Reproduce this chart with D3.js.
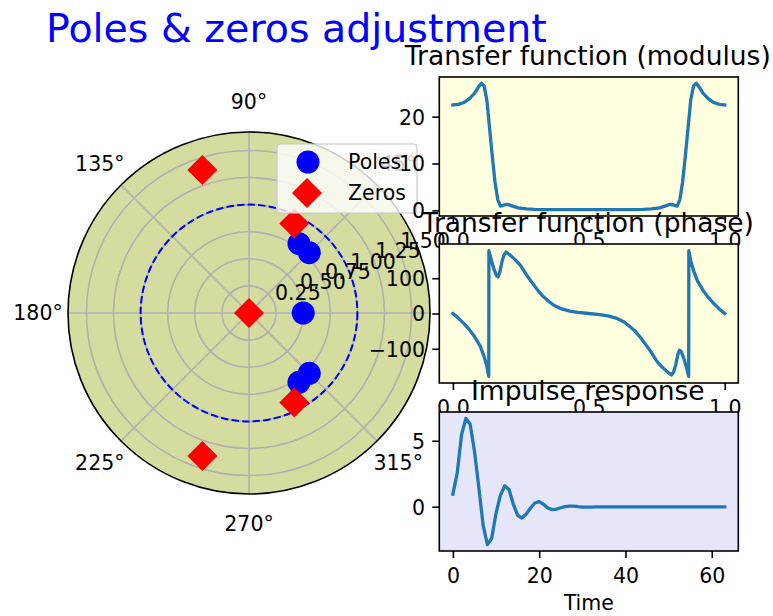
<!DOCTYPE html>
<html><head><meta charset="utf-8">
<script src="https://cdn.jsdelivr.net/npm/d3@7"></script>
<style>body{margin:0;background:#fff}svg{display:block;font-family:"DejaVu Sans",sans-serif}</style>
</head><body><svg id="c" width="773" height="616"></svg>
<script>
// ---------- data ----------
const poleRe = [0.5, 0.461, 0.556, 0.556, 0.461];
const poleIm = [0.0, 0.64, 0.557, -0.557, -0.64];
const zeroRe = [0.0, -0.43, -0.43, 0.418, 0.418];
const zeroIm = [0.0, 1.32, -1.32, 0.825, -0.825];
const rTicks = [0.25, 0.5, 0.75, 1.0, 1.25, 1.5];
const rTickLabels = ["0.25", "0.50", "0.75", "1.00", "1.25", "1.50"];
const thetaTicks = [0, 45, 90, 135, 180, 225, 270, 315];
const thetaLabels = ["0°", "45°", "90°", "135°", "180°", "225°", "270°", "315°"];

const modX = [0.000,0.020,0.040,0.060,0.080,0.095,0.105,0.115,0.125,0.135,0.145,0.155,0.165,0.175,0.185,0.200,0.220,0.240,0.270,0.300,0.350,0.400,0.450,0.500,
              0.550,0.600,0.650,0.700,0.730,0.760,0.780,0.800,0.815,0.825,0.835,0.845,0.855,0.865,0.875,0.885,0.895,0.905,0.920,0.940,0.960,0.980,1.000];
const modY = [22.5,22.6,23.0,23.8,25.0,26.4,27.1,26.5,23.5,17.5,11.5,6.0,2.3,0.9,1.1,1.3,0.9,0.55,0.3,0.2,0.16,0.15,0.15,0.15,
              0.15,0.15,0.16,0.2,0.3,0.55,0.9,1.3,1.1,0.9,2.3,6.0,11.5,17.5,23.5,26.5,27.1,26.4,25.0,23.8,23.0,22.6,22.5];

const phX = [0.000,0.020,0.040,0.060,0.080,0.100,0.115,0.125,0.132,0.1325,0.140,0.150,0.160,0.166,0.172,0.180,0.188,0.196,0.210,0.230,0.250,0.270,0.290,0.310,0.330,0.350,0.370,0.400,0.430,0.460,0.500,
             0.540,0.570,0.600,0.630,0.650,0.670,0.690,0.710,0.730,0.750,0.770,0.790,0.804,0.812,0.820,0.828,0.834,0.840,0.850,0.860,0.8675,0.868,0.875,0.885,0.900,0.920,0.940,0.960,0.980,1.000];
const phY = [0,-13,-28,-45,-66,-92,-122,-150,-178,178,155,128,108,104,115,145,166,174,166,152,135,110,89,68,50,36,24,13,7,3.3,0,
             -3.3,-7,-13,-24,-36,-50,-68,-89,-110,-135,-152,-166,-174,-166,-145,-115,-104,-108,-128,-155,-178,178,150,122,92,66,45,28,13,0];

const impT = d3.range(64);
const impY = [0.95,2.55,5.45,6.7,6.25,4.2,1.5,-1.4,-2.88,-2.4,-0.5,0.85,1.58,1.3,0.2,-0.65,-0.86,-0.55,-0.1,0.28,0.38,0.18,-0.1,-0.22,-0.18,-0.08,0.0,0.05,0.04,0.0,
              -0.03,-0.04,-0.03,-0.02,-0.02,-0.01,-0.01,-0.01,-0.01,-0.01,-0.01,-0.01,-0.01,-0.01,-0.01,-0.01,-0.01,-0.01,-0.01,-0.01,-0.01,-0.01,-0.01,-0.01,-0.01,-0.01,-0.01,-0.01,-0.01,-0.01,-0.01,-0.01,-0.01,-0.01];

const unitX = [0, 0.5, 1.0];
const modYTicks = [0, 10, 20];
const phYTicks = [-100, 0, 100];
const impXTicks = [0, 20, 40, 60];
const impYTicks = [0, 5];

// ---------- drawing ----------
const svg = d3.select("#c");
const FS = 20.5;
const fmtMinus = v => String(v).replace("-", "\u2212");

// Title
svg.append("text").attr("x", 46).attr("y", 42).attr("font-size", 39.5).attr("fill", "#0000ff").text("Poles & zeros adjustment");

// Polar
const cx = 249, cy = 313, R = 181;
const rS = d3.scaleLinear().domain([0, 1.67]).range([0, R]);
const pg = svg.append("g");
pg.append("circle").attr("cx", cx).attr("cy", cy).attr("r", R).attr("fill", "#d5dc9f");
pg.selectAll(".rg").data(rTicks).enter().append("circle")
  .attr("cx", cx).attr("cy", cy).attr("r", d => rS(d)).attr("fill", "none").attr("stroke", "#b0b0b0").attr("stroke-width", 1.6);
pg.selectAll(".tg").data(thetaTicks).enter().append("line")
  .attr("x1", cx).attr("y1", cy)
  .attr("x2", d => cx + R * Math.cos(d * Math.PI / 180))
  .attr("y2", d => cy - R * Math.sin(d * Math.PI / 180))
  .attr("stroke", "#b0b0b0").attr("stroke-width", 1.6);
pg.append("circle").attr("cx", cx).attr("cy", cy).attr("r", rS(1)).attr("fill", "none")
  .attr("stroke", "#0000ff").attr("stroke-width", 2).attr("stroke-dasharray", "7.4,3.2");
pg.selectAll(".pole").data(poleRe).enter().append("circle")
  .attr("cx", (d, i) => cx + rS(d)).attr("cy", (d, i) => cy - rS(poleIm[i])).attr("r", 11.5).attr("fill", "#0000ff");
const dia = s => `M0,${-s}L${s},0L0,${s}L${-s},0Z`;
pg.selectAll(".zero").data(zeroRe).enter().append("path")
  .attr("d", dia(15)).attr("fill", "#ff0000")
  .attr("transform", (d, i) => `translate(${cx + rS(d)},${cy - rS(zeroIm[i])})`);
pg.append("circle").attr("cx", cx).attr("cy", cy).attr("r", R).attr("fill", "none").attr("stroke", "#000").attr("stroke-width", 1.6);
pg.selectAll(".tl").data(thetaTicks).enter().append("text")
  .attr("x", d => cx + 211 * Math.cos(d * Math.PI / 180))
  .attr("y", d => cy - 211 * Math.sin(d * Math.PI / 180) + 7.4)
  .attr("text-anchor", "middle").attr("font-size", FS).attr("fill", "#000")
  .text((d, i) => thetaLabels[i]);
const ra = 22.5 * Math.PI / 180;
pg.selectAll(".rl").data(rTicks).enter().append("text")
  .attr("x", d => cx + rS(d) * Math.cos(ra) + 1)
  .attr("y", d => cy - rS(d) * Math.sin(ra) - 3)
  .attr("font-size", FS).attr("fill", "#000")
  .text((d, i) => rTickLabels[i]);

// Legend
const lg = svg.append("g");
lg.append("rect").attr("x", 277).attr("y", 144).attr("width", 140).attr("height", 69).attr("rx", 4)
  .attr("fill", "#fff").attr("fill-opacity", 0.8).attr("stroke", "#cccccc").attr("stroke-opacity", 0.8).attr("stroke-width", 1.6);
lg.append("circle").attr("cx", 308).attr("cy", 162).attr("r", 11.5).attr("fill", "#0000ff");
lg.append("path").attr("d", dia(15)).attr("fill", "#ff0000").attr("transform", "translate(307,193)");
lg.append("text").attr("x", 348).attr("y", 169.4).attr("font-size", FS).text("Poles");
lg.append("text").attr("x", 348).attr("y", 200.4).attr("font-size", FS).text("Zeros");

// Panels
const AX0 = 439.3, AX1 = 738.3, AH = 139;
function panel(o) {
  const g = svg.append("g");
  const x = d3.scaleLinear().domain(o.xd).range([AX0, AX1]);
  const y = d3.scaleLinear().domain(o.yd).range([o.top + AH, o.top]);
  const id = "clip" + o.top;
  g.append("clipPath").attr("id", id).append("rect").attr("x", AX0).attr("y", o.top).attr("width", AX1 - AX0).attr("height", AH);
  g.append("rect").attr("x", AX0).attr("y", o.top).attr("width", AX1 - AX0).attr("height", AH).attr("fill", o.bg);
  g.append("path").datum(o.xs.map((v, i) => [v, o.ys[i]]))
    .attr("clip-path", `url(#${id})`)
    .attr("d", d3.line().x(d => x(d[0])).y(d => y(d[1])))
    .attr("fill", "none").attr("stroke", "#1f77b4").attr("stroke-width", 3.3).attr("stroke-linejoin", "round").attr("stroke-linecap", "square");
  g.append("rect").attr("x", AX0).attr("y", o.top).attr("width", AX1 - AX0).attr("height", AH)
    .attr("fill", "none").attr("stroke", "#000").attr("stroke-width", 1.6);
  const xa = g.append("g").attr("transform", `translate(0,${o.top + AH})`)
    .call(d3.axisBottom(x).tickValues(o.xt).tickFormat(o.xf).tickSize(7).tickPadding(7));
  xa.select(".domain").remove();
  xa.selectAll("line").attr("stroke", "#000").attr("stroke-width", 1.6);
  xa.selectAll("text").attr("font-size", FS).attr("font-family", "DejaVu Sans").attr("fill", "#000").attr("y", 32.3).attr("dy", 0);
  const ya = g.append("g").attr("transform", `translate(${AX0},0)`)
    .call(d3.axisLeft(y).tickValues(o.yt).tickFormat(fmtMinus).tickSize(7).tickPadding(7.3));
  ya.select(".domain").remove();
  ya.selectAll("line").attr("stroke", "#000").attr("stroke-width", 1.6);
  ya.selectAll("text").attr("font-size", FS).attr("font-family", "DejaVu Sans").attr("fill", "#000").attr("dy", "0.36em");
  g.append("text").attr("x", (AX0 + AX1) / 2 - 1).attr("y", o.top - 12.5).attr("text-anchor", "middle")
    .attr("font-size", 26.5).attr("fill", "#000").text(o.title);
  if (o.xlabel) g.append("text").attr("x", (AX0 + AX1) / 2).attr("y", 610).attr("text-anchor", "middle")
    .attr("font-size", FS).attr("fill", "#000").text(o.xlabel);
}
panel({top: 77, xd: [-0.05, 1.05], yd: [-1.2, 28.45], xs: modX, ys: modY, xt: unitX, xf: d3.format(".1f"),
       yt: modYTicks, bg: "#ffffe0", title: "Transfer function (modulus)"});
panel({top: 244, xd: [-0.05, 1.05], yd: [-197, 197], xs: phX, ys: phY, xt: unitX, xf: d3.format(".1f"),
       yt: phYTicks, bg: "#ffffe0", title: "Transfer function (phase)"});
panel({top: 412, xd: [-3.15, 66.15], yd: [-3.36, 7.18], xs: impT, ys: impY, xt: impXTicks, xf: d3.format("d"),
       yt: impYTicks, bg: "#e6e6fa", title: "Impulse response", xlabel: "Time"});
</script></body></html>
